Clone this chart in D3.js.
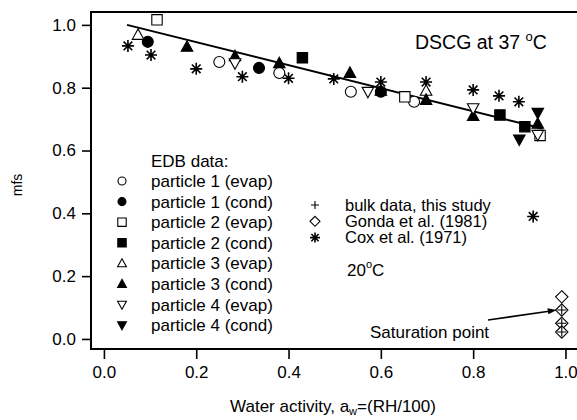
<!DOCTYPE html>
<html>
<head>
<meta charset="utf-8">
<script src="https://cdn.jsdelivr.net/npm/d3@7"></script>
<style>
  body { margin: 0; background: #fff; }
  svg text { font-family: "Liberation Sans", Arial, sans-serif; fill: #000; }
</style>
</head>
<body>
<svg id="chart" width="577" height="420"></svg>
<script>

// EDB data (water activity vs mfs)
var p1EvapX = [0.25, 0.38, 0.535, 0.672]
var p1EvapY = [0.882, 0.847, 0.787, 0.755]
var p1CondX = [0.095, 0.336, 0.60]
var p1CondY = [0.946, 0.863, 0.787]
var p2EvapX = [0.115, 0.652, 0.945]
var p2EvapY = [1.016, 0.771, 0.648]
var p2CondX = [0.43, 0.858, 0.912]
var p2CondY = [0.895, 0.713, 0.676]
var p3EvapX = [0.074, 0.698]
var p3EvapY = [0.968, 0.79]
var p3CondX = [0.18, 0.284, 0.38, 0.533, 0.60, 0.698, 0.80, 0.94]
var p3CondY = [0.93, 0.90, 0.878, 0.847, 0.79, 0.761, 0.71, 0.685]
var p4EvapX = [0.284, 0.572, 0.80, 0.94]
var p4EvapY = [0.878, 0.787, 0.735, 0.65]
var p4CondX = [0.90, 0.94]
var p4CondY = [0.635, 0.72]

// literature + bulk
var coxX = [0.052, 0.102, 0.20, 0.30, 0.40, 0.498, 0.60, 0.698, 0.80, 0.856, 0.899, 0.93]
var coxY = [0.933, 0.904, 0.86, 0.835, 0.83, 0.828, 0.818, 0.818, 0.793, 0.774, 0.755, 0.39]
var gondaX = [0.992, 0.992, 0.992, 0.992]
var gondaY = [0.134, 0.092, 0.05, 0.022]
var bulkX = [0.992, 0.992, 0.992]
var bulkY = [0.092, 0.05, 0.022]

// fitted line
var fitX = [0.05, 0.95]
var fitY = [1.0, 0.67]

var xTicks = [0, 0.2, 0.4, 0.6, 0.8, 1.0]
var yTicks = [0, 0.2, 0.4, 0.6, 0.8, 1.0]

var svg = d3.select("#chart")
var x = d3.scaleLinear().domain([-0.028, 1.025]).range([91, 577])
var y = d3.scaleLinear().domain([-0.032, 1.041]).range([349, 12])

function zip(xs, ys) {
  return xs.map(function (v, i) { return { x: v, y: ys[i] } })
}

// marker shapes, centred on 0,0
function shape(type, s) {
  switch (type) {
    case "square": return "M" + (-s) + "," + (-s) + "h" + 2 * s + "v" + 2 * s + "h" + (-2 * s) + "Z"
    case "up": return "M0," + (-s * 1.1) + "L" + s * 1.05 + "," + s * 0.8 + "L" + (-s * 1.05) + "," + s * 0.8 + "Z"
    case "down": return "M0," + s * 1.1 + "L" + s * 1.05 + "," + (-s * 0.8) + "L" + (-s * 1.05) + "," + (-s * 0.8) + "Z"
    case "diamond": return "M0," + (-s) + "L" + s + ",0L0," + s + "L" + (-s) + ",0Z"
    case "plus": return "M" + (-s) + ",0H" + s + "M0," + (-s) + "V" + s
    case "star":
      var d = s * 0.72
      return "M" + (-s) + ",0H" + s + "M0," + (-s) + "V" + s +
        "M" + (-d) + "," + (-d) + "L" + d + "," + d + "M" + (-d) + "," + d + "L" + d + "," + (-d)
  }
}

function marker(g, type, filled, s) {
  if (type == "circle") {
    g.append("circle").attr("r", s)
      .attr("fill", filled ? "#000" : "#fff")
      .attr("stroke", "#000").attr("stroke-width", 1.1)
  } else {
    g.append("path").attr("d", shape(type, s))
      .attr("fill", (type == "plus" || type == "star") ? "none" : (filled ? "#000" : "#fff"))
      .attr("stroke", "#000").attr("stroke-width", type == "star" ? 1.6 : 1.1)
  }
}

var series = [
  { name: "particle 1 (evap)", type: "circle", filled: false, size: 5.5, data: zip(p1EvapX, p1EvapY) },
  { name: "particle 1 (cond)", type: "circle", filled: true, size: 5.5, data: zip(p1CondX, p1CondY) },
  { name: "particle 2 (evap)", type: "square", filled: false, size: 5.2, data: zip(p2EvapX, p2EvapY) },
  { name: "particle 2 (cond)", type: "square", filled: true, size: 5.2, data: zip(p2CondX, p2CondY) },
  { name: "particle 3 (evap)", type: "up", filled: false, size: 5.5, data: zip(p3EvapX, p3EvapY) },
  { name: "particle 3 (cond)", type: "up", filled: true, size: 5.5, data: zip(p3CondX, p3CondY) },
  { name: "particle 4 (evap)", type: "down", filled: false, size: 5.5, data: zip(p4EvapX, p4EvapY) },
  { name: "particle 4 (cond)", type: "down", filled: true, size: 5.5, data: zip(p4CondX, p4CondY) }
]
var others = [
  { name: "bulk data, this study", type: "plus", filled: false, size: 4.5, data: zip(bulkX, bulkY) },
  { name: "Gonda et al. (1981)", type: "diamond", filled: false, size: 6.2, data: zip(gondaX, gondaY) },
  { name: "Cox et al. (1971)", type: "star", filled: false, size: 6, data: zip(coxX, coxY) }
]

// frame
svg.append("rect").attr("x", 91).attr("y", 12).attr("width", 490).attr("height", 337)
  .attr("fill", "none").attr("stroke", "#000").attr("stroke-width", 2)

// axes
var xAxis = d3.axisBottom(x).tickValues(xTicks).tickFormat(d3.format(".1f")).tickSize(10).tickPadding(7)
var gx = svg.append("g").attr("transform", "translate(0,349)").call(xAxis)
var yAxis = d3.axisLeft(y).tickValues(yTicks).tickFormat(d3.format(".1f")).tickSize(9).tickPadding(6)
var gy = svg.append("g").attr("transform", "translate(91,0)").call(yAxis)
svg.selectAll(".domain").remove()
svg.selectAll(".tick line").attr("stroke", "#000").attr("stroke-width", 1.6)
svg.selectAll(".tick text").style("font-size", "17px")
  .style("font-family", "'Liberation Sans', Arial, sans-serif")

// axis titles
svg.append("text").attr("transform", "translate(22,185) rotate(-90)")
  .attr("text-anchor", "middle").style("font-size", "14px").text("mfs")
var xt = svg.append("text").attr("x", 333).attr("y", 412).attr("text-anchor", "middle").style("font-size", "17px")
xt.append("tspan").text("Water activity, a")
xt.append("tspan").attr("dy", 3).style("font-size", "11px").text("w")
xt.append("tspan").attr("dy", -3).text("=(RH/100)")

// fit line
svg.append("path").datum(zip(fitX, fitY))
  .attr("d", d3.line().x(function (d) { return x(d.x) }).y(function (d) { return y(d.y) }))
  .attr("stroke", "#000").attr("stroke-width", 2).attr("fill", "none")

// data points
others.concat(series).forEach(function (s) {
  s.data.forEach(function (d) {
    var g = svg.append("g").attr("transform", "translate(" + x(d.x) + "," + y(d.y) + ")")
    marker(g, s.type, s.filled, s.size)
  })
})
// draw bulk crosses on top of the diamonds
others[0].data.forEach(function (d) {
  var g = svg.append("g").attr("transform", "translate(" + x(d.x) + "," + y(d.y) + ")")
  marker(g, "plus", false, 4.5)
})

// EDB legend
svg.append("text").attr("x", 151).attr("y", 167).style("font-size", "17px").text("EDB data:")
series.forEach(function (s, i) {
  var cy = 181 + i * 20.6
  var g = svg.append("g").attr("transform", "translate(122," + cy + ")")
  marker(g, s.type, s.filled, s.type == "circle" ? 4 : 4.2)
  svg.append("text").attr("x", 151).attr("y", cy + 6).style("font-size", "17px").text(s.name)
})

// other legend
others.forEach(function (s, i) {
  var cy = 205 + i * 16.3
  var g = svg.append("g").attr("transform", "translate(315," + cy + ")")
  marker(g, s.type, s.filled, s.type == "plus" ? 4 : 5)
  svg.append("text").attr("x", 345).attr("y", cy + 5.5).style("font-size", "16.5px").text(s.name)
})
var t20 = svg.append("text").attr("x", 347).attr("y", 276).style("font-size", "17px")
t20.append("tspan").text("20")
t20.append("tspan").attr("dy", -8).style("font-size", "11px").text("o")
t20.append("tspan").attr("dy", 8).text("C")

// title
var tt = svg.append("text").attr("x", 415).attr("y", 49).style("font-size", "19.5px")
tt.append("tspan").text("DSCG at 37 ")
tt.append("tspan").attr("dy", -8).style("font-size", "13px").text("o")
tt.append("tspan").attr("dy", 8).text("C")

// saturation annotation
svg.append("text").attr("x", 370).attr("y", 338).style("font-size", "17px").text("Saturation point")
var ax0 = 488, ay0 = 320, ax1 = x(gondaX[1]) - 5, ay1 = y(gondaY[1])
svg.append("line").attr("x1", ax0).attr("y1", ay0).attr("x2", ax1 - 6).attr("y2", ay1 + 1)
  .attr("stroke", "#000").attr("stroke-width", 1.6)
var ang = Math.atan2(ay1 - ay0, ax1 - ax0)
var hp = [[ax1, ay1],
  [ax1 - 9 * Math.cos(ang) + 3 * Math.sin(ang), ay1 - 9 * Math.sin(ang) - 3 * Math.cos(ang)],
  [ax1 - 9 * Math.cos(ang) - 3 * Math.sin(ang), ay1 - 9 * Math.sin(ang) + 3 * Math.cos(ang)]]
svg.append("path").attr("d", "M" + hp.join("L") + "Z").attr("fill", "#000")

</script>
</body>
</html>
